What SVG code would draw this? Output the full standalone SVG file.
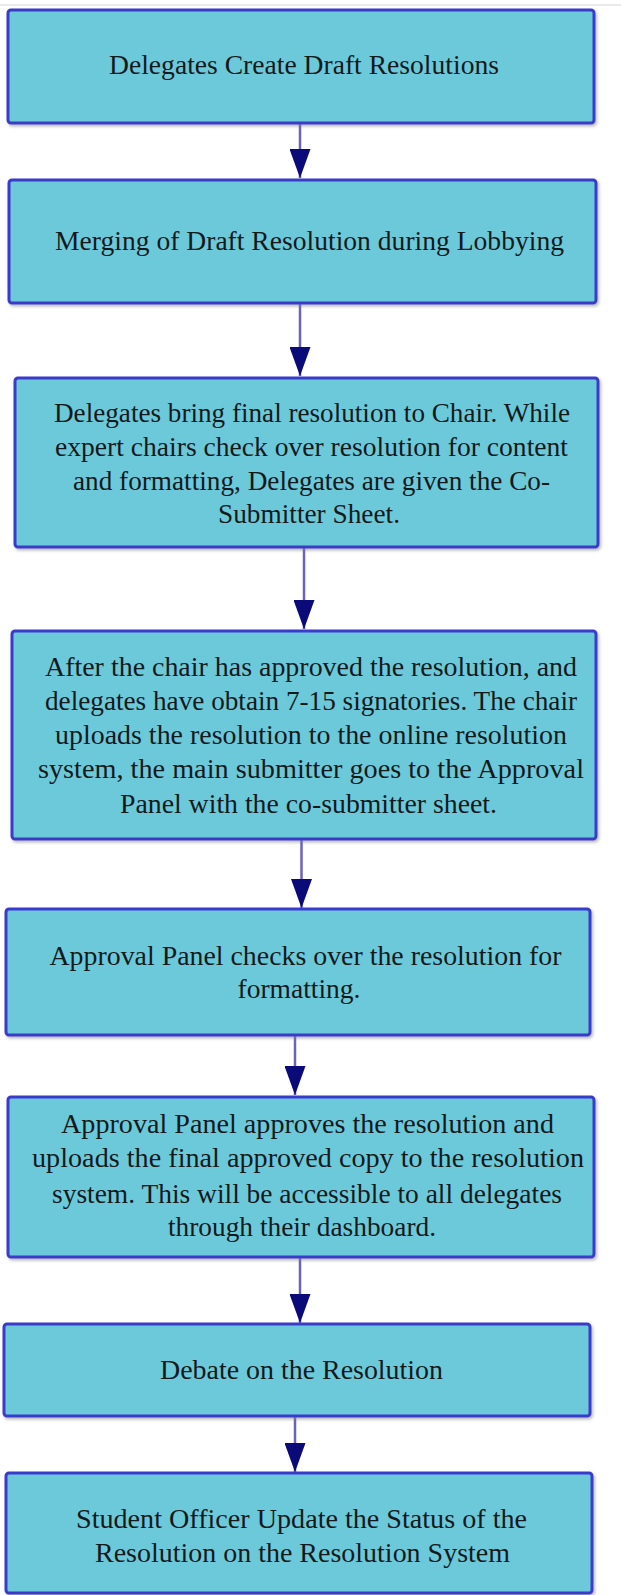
<svg xmlns="http://www.w3.org/2000/svg" width="621" height="1595" viewBox="0 0 621 1595">
<style>
.box{fill:#6cc9da;stroke:#3a3acb;stroke-width:3;filter:url(#sh)}
.t{font-family:"Liberation Serif","DejaVu Serif",serif;font-size:27px;fill:#141a1c;text-anchor:middle}
.c{stroke:#6a62bf;stroke-width:2.5;fill:none;marker-end:url(#ah)}
</style>
<defs>
<filter id="sh" x="-5%" y="-5%" width="110%" height="115%">
<feDropShadow dx="1.5" dy="2" stdDeviation="1.5" flood-color="#808080" flood-opacity="0.55"/>
</filter>
<marker id="ah" viewBox="0 0 29 21" refX="29" refY="10.5" markerWidth="29" markerHeight="21" markerUnits="userSpaceOnUse" orient="auto">
<path d="M0,0 L29,10.5 L0,21 Z" fill="#0a0a78"/>
</marker>
</defs>
<rect width="621" height="1595" fill="#ffffff"/>
<line x1="0" y1="5" x2="621" y2="5" stroke="#d6d6d6" stroke-width="1"/>
<g id="connectors">
<path class="c" d="M300,123 V178"/>
<path class="c" d="M300,303 V376"/>
<path class="c" d="M304,547 V629"/>
<path class="c" d="M301.5,839 V908"/>
<path class="c" d="M295,1035 V1095"/>
<path class="c" d="M300,1257 V1323"/>
<path class="c" d="M295,1416 V1472"/>
</g>
<g id="n1">
<rect class="box" x="8" y="10" width="586" height="113" rx="3"/>
<text class="t" x="304" y="74" textLength="390" lengthAdjust="spacingAndGlyphs">Delegates Create Draft Resolutions</text>
</g>
<g id="n2">
<rect class="box" x="9" y="180" width="587" height="123" rx="3"/>
<text class="t" x="309.5" y="250" textLength="509" lengthAdjust="spacingAndGlyphs">Merging of Draft Resolution during Lobbying</text>
</g>
<g id="n3">
<rect class="box" x="15" y="378" width="583" height="169" rx="3"/>
<text class="t" x="312" y="422" textLength="516" lengthAdjust="spacingAndGlyphs">Delegates bring final resolution to Chair. While</text>
<text class="t" x="311.5" y="456" textLength="513" lengthAdjust="spacingAndGlyphs">expert chairs check over resolution for content</text>
<text class="t" x="311.5" y="490" textLength="477" lengthAdjust="spacingAndGlyphs">and formatting, Delegates are given the Co-</text>
<text class="t" x="309" y="523" textLength="182" lengthAdjust="spacingAndGlyphs">Submitter Sheet.</text>
</g>
<g id="n4">
<rect class="box" x="12" y="631" width="584" height="208" rx="3"/>
<text class="t" x="311" y="676" textLength="532" lengthAdjust="spacingAndGlyphs">After the chair has approved the resolution, and</text>
<text class="t" x="311" y="710" textLength="532" lengthAdjust="spacingAndGlyphs">delegates have obtain 7-15 signatories. The chair</text>
<text class="t" x="311" y="744" textLength="512" lengthAdjust="spacingAndGlyphs">uploads the resolution to the online resolution</text>
<text class="t" x="311" y="778" textLength="546" lengthAdjust="spacingAndGlyphs">system, the main submitter goes to the Approval</text>
<text class="t" x="308.5" y="813" textLength="377" lengthAdjust="spacingAndGlyphs">Panel with the co-submitter sheet.</text>
</g>
<g id="n5">
<rect class="box" x="6" y="909" width="584" height="126" rx="3"/>
<text class="t" x="305.5" y="965" textLength="512" lengthAdjust="spacingAndGlyphs">Approval Panel checks over the resolution for</text>
<text class="t" x="299" y="998" textLength="123" lengthAdjust="spacingAndGlyphs">formatting.</text>
</g>
<g id="n6">
<rect class="box" x="8" y="1097" width="586" height="160" rx="3"/>
<text class="t" x="307.5" y="1133" textLength="493" lengthAdjust="spacingAndGlyphs">Approval Panel approves the resolution and</text>
<text class="t" x="308" y="1167" textLength="552" lengthAdjust="spacingAndGlyphs">uploads the final approved copy to the resolution</text>
<text class="t" x="307" y="1203" textLength="510" lengthAdjust="spacingAndGlyphs">system. This will be accessible to all delegates</text>
<text class="t" x="302" y="1236" textLength="268" lengthAdjust="spacingAndGlyphs">through their dashboard.</text>
</g>
<g id="n7">
<rect class="box" x="4" y="1324" width="586" height="92" rx="3"/>
<text class="t" x="301.5" y="1379" textLength="283" lengthAdjust="spacingAndGlyphs">Debate on the Resolution</text>
</g>
<g id="n8">
<rect class="box" x="6" y="1473" width="586" height="120" rx="3"/>
<text class="t" x="301.5" y="1528" textLength="451" lengthAdjust="spacingAndGlyphs">Student Officer Update the Status of the</text>
<text class="t" x="302.5" y="1562" textLength="415" lengthAdjust="spacingAndGlyphs">Resolution on the Resolution System</text>
</g>
</svg>
